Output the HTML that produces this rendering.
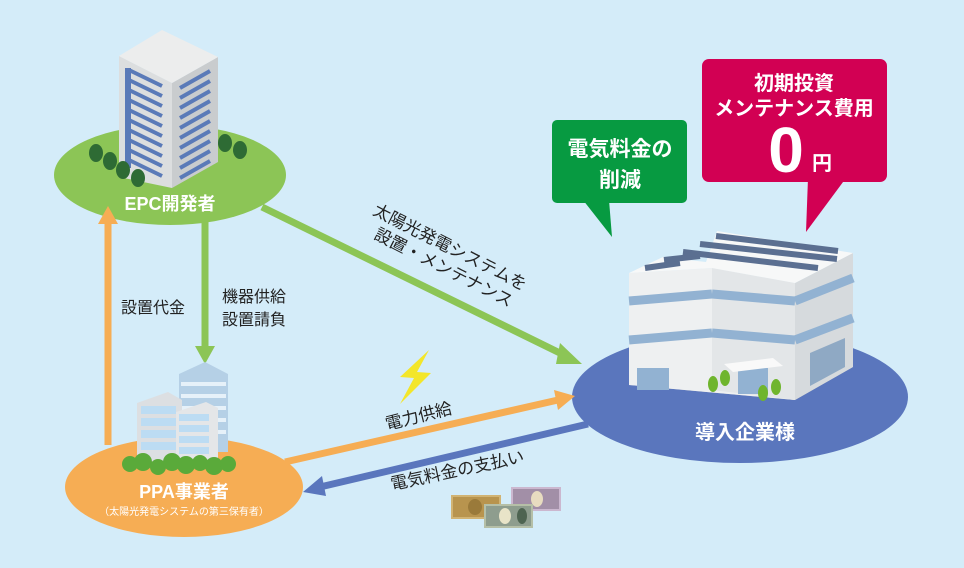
<!DOCTYPE html>
<html><head><meta charset="utf-8"><style>
body{margin:0;background:#d4ecf9}
svg{display:block}
text{font-family:"Liberation Sans","Noto Sans CJK JP",sans-serif}
</style></head><body>
<svg width="964" height="568" viewBox="0 0 964 568" xmlns="http://www.w3.org/2000/svg">
<rect width="964" height="568" fill="#d4ecf9"/>
<ellipse cx="170" cy="175" rx="116" ry="50" fill="#8cc556"/>
<ellipse cx="184" cy="487" rx="119" ry="50" fill="#f6ad54"/>
<ellipse cx="740" cy="397" rx="168" ry="66" fill="#5a76bd"/>
<g stroke-linecap="butt">
<line x1="108" y1="445" x2="108" y2="222" stroke="#f6ad54" stroke-width="7"/>
<polygon points="98,224 118,224 108,206" fill="#f6ad54"/>
<line x1="205" y1="222" x2="205" y2="348" stroke="#8cc556" stroke-width="7"/>
<polygon points="195,346 215,346 205,364" fill="#8cc556"/>
<line x1="262" y1="207" x2="566" y2="356" stroke="#8cc556" stroke-width="7"/>
<polygon points="560,343 582,364 556,364" fill="#8cc556"/>
<line x1="285" y1="462" x2="558" y2="400" stroke="#f6ad54" stroke-width="7"/>
<polygon points="554,390 575,396 558,410" fill="#f6ad54"/>
<line x1="588" y1="424" x2="320" y2="487" stroke="#5a76bd" stroke-width="7"/>
<polygon points="322,476 303,492 326,496" fill="#5a76bd"/>
</g>
<polygon points="429,350 400,377 414,378 400,404 431,373 417,372" fill="#f3e62a"/>
<polygon points="119,56 172,83 172,188 119,177" fill="#dcdedf"/>
<polygon points="172,83 218,57 218,162 172,188" fill="#c9ccce"/>
<polygon points="119,56 162,30 218,57 172,83" fill="#eceded"/>
<rect x="125" y="68" width="6" height="100" fill="#5a7ab8"/>
<g stroke="#5a7ab8" stroke-width="4">
<line x1="129" y1="70" x2="162" y2="86"/><line x1="129" y1="80" x2="162" y2="96"/><line x1="129" y1="90" x2="162" y2="106"/><line x1="129" y1="100" x2="162" y2="116"/><line x1="129" y1="110" x2="162" y2="126"/><line x1="129" y1="120" x2="162" y2="136"/><line x1="129" y1="130" x2="162" y2="146"/><line x1="129" y1="140" x2="162" y2="156"/><line x1="129" y1="150" x2="162" y2="166"/><line x1="129" y1="160" x2="162" y2="176"/>
<line x1="180" y1="88" x2="210" y2="71"/><line x1="180" y1="98" x2="210" y2="81"/><line x1="180" y1="108" x2="210" y2="91"/><line x1="180" y1="118" x2="210" y2="101"/><line x1="180" y1="128" x2="210" y2="111"/><line x1="180" y1="138" x2="210" y2="121"/><line x1="180" y1="148" x2="210" y2="131"/><line x1="180" y1="158" x2="210" y2="141"/><line x1="180" y1="168" x2="210" y2="151"/><line x1="180" y1="178" x2="210" y2="161"/>
</g>
<g fill="#2e6b34">
<ellipse cx="96" cy="153" rx="7" ry="9"/><ellipse cx="110" cy="161" rx="7" ry="9"/><ellipse cx="123" cy="170" rx="7" ry="9"/><ellipse cx="138" cy="178" rx="7" ry="9"/><ellipse cx="225" cy="143" rx="7" ry="9"/><ellipse cx="240" cy="150" rx="7" ry="9"/>
</g>
<text x="170" y="210" font-size="18" font-weight="bold" fill="#fff" text-anchor="middle">EPC開発者</text>
<polygon points="179,374 205,362 228,374 228,452 179,452" fill="#b5d0e6"/>
<g stroke="#e6f1f9" stroke-width="4"><line x1="181" y1="384" x2="226" y2="384"/><line x1="181" y1="396" x2="226" y2="396"/><line x1="181" y1="408" x2="226" y2="408"/><line x1="181" y1="420" x2="226" y2="420"/><line x1="181" y1="432" x2="226" y2="432"/></g>
<polygon points="137,403 168,392 182,400 182,462 137,462" fill="#dcdfe2"/>
<polygon points="176,412 206,402 218,408 218,462 176,462" fill="#e4e6e8"/>
<g fill="#bcdcf3"><rect x="141" y="406" width="35" height="8"/><rect x="141" y="418" width="35" height="8"/><rect x="141" y="430" width="35" height="8"/><rect x="141" y="442" width="35" height="8"/><rect x="179" y="414" width="30" height="7"/><rect x="179" y="425" width="30" height="7"/><rect x="179" y="436" width="30" height="7"/><rect x="179" y="447" width="30" height="7"/></g>
<g fill="#5aaa3a"><circle cx="130" cy="464" r="8"/><circle cx="143" cy="462" r="9"/><circle cx="158" cy="467" r="8"/><circle cx="172" cy="462" r="9"/><circle cx="186" cy="465" r="9"/><circle cx="200" cy="463" r="8"/><circle cx="214" cy="466" r="9"/><circle cx="228" cy="464" r="8"/></g>
<text x="184" y="498" font-size="18" font-weight="bold" fill="#fff" text-anchor="middle">PPA事業者</text>
<text x="184" y="515" font-size="10" fill="#fff" text-anchor="middle">（太陽光発電システムの第三保有者）</text>
<polygon points="629,385 795,400 853,367 760,385 700,385" fill="#bcbcbc"/>
<polygon points="629,273 712,268 795,283 795,400 629,385" fill="#eef0f1"/>
<polygon points="712,268 795,283 795,400 712,390" fill="#e3e6e8"/>
<polygon points="795,283 853,253 853,367 795,400" fill="#d6dadd"/>
<polygon points="629,273 663,257 706,262 717,231 853,253 795,283 712,268" fill="#f7f8f8"/>
<g stroke="#92b2d2" stroke-width="9"><line x1="629" y1="301" x2="712" y2="294"/><line x1="712" y1="294" x2="795" y2="301"/><line x1="795" y1="301" x2="853" y2="278"/><line x1="629" y1="340" x2="712" y2="333"/><line x1="712" y1="333" x2="795" y2="340"/><line x1="795" y1="340" x2="853" y2="318"/></g>
<g stroke="#5b6f91" stroke-width="6"><line x1="645" y1="268" x2="680" y2="263"/><line x1="664" y1="260" x2="700" y2="256"/><line x1="683" y1="252" x2="818" y2="268"/><line x1="700" y1="244" x2="837" y2="259"/><line x1="716" y1="236" x2="838" y2="251"/></g>
<rect x="637" y="368" width="32" height="22" fill="#92b2d2"/>
<polygon points="810,353 845,338 845,367 810,386" fill="#8fa9c4"/>
<rect x="738" y="368" width="30" height="26" fill="#92b2d2"/>
<polygon points="724,364 773,358 783,366 733,372" fill="#f9f9f9"/>
<g fill="#6fb52d"><ellipse cx="713" cy="384" rx="5" ry="8"/><ellipse cx="725" cy="378" rx="5" ry="8"/><ellipse cx="763" cy="393" rx="5" ry="8"/><ellipse cx="776" cy="387" rx="5" ry="8"/></g>
<text x="745" y="439" font-size="20" font-weight="bold" fill="#fff" text-anchor="middle">導入企業様</text>
<rect x="552" y="120" width="135" height="83" rx="5" fill="#079a41"/>
<polygon points="583,200 609,200 612,237" fill="#079a41"/>
<text x="620" y="156" font-size="21" font-weight="bold" fill="#fff" text-anchor="middle">電気料金の</text>
<text x="620" y="187" font-size="21" font-weight="bold" fill="#fff" text-anchor="middle">削減</text>
<rect x="702" y="59" width="185" height="123" rx="7" fill="#d20053"/>
<polygon points="808,178 846,178 806,232" fill="#d20053"/>
<text x="794" y="90" font-size="20" font-weight="bold" fill="#fff" text-anchor="middle">初期投資</text>
<text x="794" y="115" font-size="20" font-weight="bold" fill="#fff" text-anchor="middle">メンテナンス費用</text>
<text x="786" y="172" font-size="64" font-weight="bold" fill="#fff" text-anchor="middle">0</text>
<text x="822" y="170" font-size="20" font-weight="bold" fill="#fff" text-anchor="middle">円</text>
<g font-size="16" fill="#222">
<text x="121" y="313">設置代金</text>
<text x="222" y="302">機器供給</text>
<text x="222" y="325">設置請負</text>
<text transform="translate(372,214) rotate(27)" font-size="17">太陽光発電システムを</text>
<text transform="translate(373,238) rotate(27)" font-size="17">設置・メンテナンス</text>
<text transform="translate(387,430) rotate(-14)" font-size="17">電力供給</text>
<text transform="translate(392,490) rotate(-12)" font-size="17">電気料金の支払い</text>
</g>
<rect x="512" y="488" width="48" height="22" fill="#a28fa7" stroke="#cbb7cf" stroke-width="2"/>
<ellipse cx="537" cy="499" rx="6" ry="8" fill="#e8dcc0"/>
<rect x="452" y="496" width="48" height="22" fill="#b8944e" stroke="#d1b373" stroke-width="2"/>
<ellipse cx="475" cy="507" rx="7" ry="8" fill="#9a7a3a"/>
<rect x="485" y="505" width="47" height="22" fill="#8e9d8e" stroke="#b5bfa7" stroke-width="2"/>
<ellipse cx="505" cy="516" rx="6" ry="8" fill="#e8e4c8"/>
<ellipse cx="522" cy="516" rx="5" ry="8" fill="#4e6451"/>
</svg>
</body></html>
